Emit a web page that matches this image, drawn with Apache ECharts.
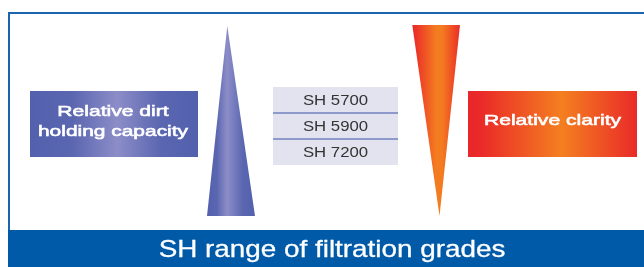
<!DOCTYPE html>
<html>
<head>
<meta charset="utf-8">
<script src="https://cdn.jsdelivr.net/npm/echarts@6/dist/echarts.min.js"></script>
<style>
html,body{margin:0;padding:0;background:#fff;}
#main{width:644px;height:267px;}
</style>
</head>
<body>
<div id="main"></div>
<script>
// ---- content ----
var grades = ['SH 5700', 'SH 5900', 'SH 7200'];
var gradeRows = [0, 1, 2];
var leftLabel = ['Relative dirt', 'holding capacity'];
var rightLabel = ['Relative clarity'];
var title = 'SH range of filtration grades';

var FONT = '"Liberation Sans", Arial, Helvetica, sans-serif';

function grad(stops) {
  return {type: 'linear', x: 0, y: 0, x2: 1, y2: 0, colorStops: stops};
}
var blueGrad = function () {
  return grad([
    {offset: 0, color: '#5360ad'},
    {offset: 0.25, color: '#5a66b0'},
    {offset: 0.52, color: '#8c8dc8'},
    {offset: 0.78, color: '#5a66b0'},
    {offset: 1, color: '#5360ad'}
  ]);
};
var redGrad = function (peak) {
  return grad([
    {offset: 0, color: '#e9262a'},
    {offset: 0.08, color: '#ea2a28'},
    {offset: peak, color: '#f47f20'},
    {offset: 1, color: '#e92a28'}
  ]);
};

function label(txt, x, y, size, weight, color, sx, sw) {
  return {
    type: 'text', x: x, y: y, scaleX: sx, scaleY: 1, z: 10,
    style: {
      text: txt, x: 0, y: 0, fill: color, font: weight + ' ' + size + 'px ' + FONT,
      textAlign: 'center', textVerticalAlign: 'middle',
      stroke: sw ? color : null, lineWidth: sw || 0
    }
  };
}

var chart = echarts.init(document.getElementById('main'), null, {renderer: 'canvas'});

var graphics = [
  // frame
  {type: 'rect', z: 1, shape: {x: 9, y: 13, width: 700, height: 240},
   style: {fill: 'none', stroke: '#1b64b0', lineWidth: 2}},
  // bottom band
  {type: 'rect', z: 2, shape: {x: 8, y: 230, width: 640, height: 40},
   style: {fill: '#005aa8'}},
  label(title, 332, 250, 24, 'normal', '#ffffff', 1.16, 0.3),
  // left box
  {type: 'rect', z: 3, shape: {x: 30, y: 91, width: 168, height: 66},
   style: {fill: blueGrad()}},
  label(leftLabel[0], 113, 111.5, 15.5, 'normal', '#ffffff', 1.36, 0.6),
  label(leftLabel[1], 113, 131.5, 15.5, 'normal', '#ffffff', 1.35, 0.6),
  // blue triangle
  {type: 'polygon', z: 3, shape: {points: [[227.3, 26], [255, 216], [207, 216]]},
   style: {fill: grad([
     {offset: 0, color: '#5360ad'},
     {offset: 0.2, color: '#5a66b0'},
     {offset: 0.42, color: '#8c8dc8'},
     {offset: 0.75, color: '#5a66b0'},
     {offset: 1, color: '#5360ad'}
   ])}},
  // orange triangle
  {type: 'polygon', z: 3, shape: {points: [[412.3, 25], [460, 25], [439.5, 216]]},
   style: {fill: grad([
     {offset: 0, color: '#e9262a'},
     {offset: 0.12, color: '#ec3a27'},
     {offset: 0.5, color: '#f47c20'},
     {offset: 0.62, color: '#f47c20'},
     {offset: 1, color: '#ea2d28'}
   ])}},
  // right box
  {type: 'rect', z: 3, shape: {x: 468, y: 91, width: 169, height: 66},
   style: {fill: redGrad(0.555)}},
  label(rightLabel[0], 552.5, 120.5, 15.5, 'normal', '#ffffff', 1.36, 0.6)
];

var option = {
  animation: false,
  backgroundColor: '#ffffff',
  grid: {left: 273, top: 87, width: 125, height: 78},
  xAxis: {type: 'value', min: 0, max: 1, show: false},
  yAxis: {type: 'value', min: 0, max: 3, inverse: true, show: false},
  graphic: graphics,
  series: [{
    type: 'custom',
    silent: true,
    z: 4,
    data: gradeRows.map(function (r, i) { return [r, grades[i]]; }),
    renderItem: function (params, api) {
      var r = api.value(0);
      var tl = api.coord([0, r]);
      var br = api.coord([1, r + 1]);
      var children = [
        {type: 'rect', shape: {x: tl[0], y: tl[1], width: br[0] - tl[0], height: br[1] - tl[1]},
         style: {fill: '#e3e3f0'}},
        {type: 'text', x: (tl[0] + br[0]) / 2, y: (tl[1] + br[1]) / 2 + 0.5, scaleX: 1.08,
         style: {text: grades[params.dataIndex], x: 0, y: 0, fill: '#333333',
                 font: 'normal 15.5px ' + FONT, textAlign: 'center', textVerticalAlign: 'middle'}}
      ];
      if (r > 0) {
        children.push({type: 'line', shape: {x1: tl[0], y1: tl[1], x2: br[0], y2: tl[1]},
          style: {stroke: '#3b53a6', lineWidth: 1.2}});
      }
      return {type: 'group', children: children};
    }
  }]
};
chart.setOption(option);
</script>
</body>
</html>
